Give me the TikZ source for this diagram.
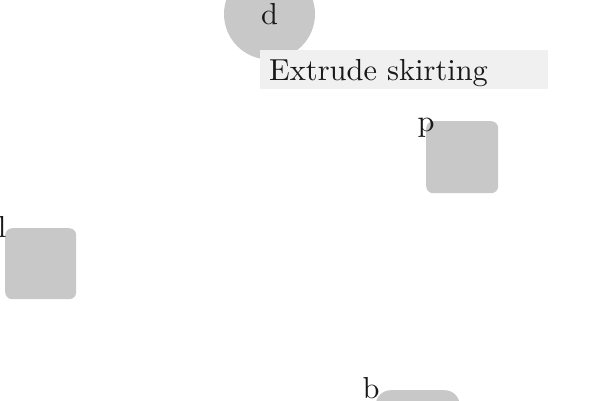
\documentclass[tikz,border=0pt]{standalone}
\usepackage{fontspec}
\newfontfamily\lmten{lmroman10-regular.otf}
\begin{document}
\begin{tikzpicture}[x=1pt,y=-1pt,
  shapefill/.style={fill=black!21.5,draw=none},
  lbl/.style={inner sep=0pt,font=\lmten\fontsize{30.4}{36}\selectfont,text=black!90}]
\useasboundingbox (0,0) rectangle (600,400);
% circle d
\node[shapefill,circle,minimum size=91pt,inner sep=0pt] (dc) at (269.5,14) {};
\node[lbl] (d) at (269.5,14) {d};
% label box
\node[fill=black!6,draw=none,minimum width=288pt,minimum height=39pt,inner sep=0pt,anchor=north west] (eb) at (260,50) {};
\node[lbl,anchor=base west] (et) at (269,80) {Extrude skirting};
% square p
\node[shapefill,rounded corners=7pt,minimum size=72pt,inner sep=0pt,anchor=north west] (ps) at (426,121) {};
\node[lbl] (p) at (426,127.5) {p};
% square l
\node[shapefill,rounded corners=7pt,minimum size=71pt,inner sep=0pt,anchor=north west] (ls) at (5,228) {};
\node[lbl] (l) at (2,227) {l};
% bottom shape b
\node[shapefill,rounded corners=15pt,minimum width=84pt,minimum height=72pt,inner sep=0pt,anchor=north west] (bs) at (375.5,390) {};
\node[lbl] (b) at (371,388.5) {b};
\end{tikzpicture}
\end{document}
